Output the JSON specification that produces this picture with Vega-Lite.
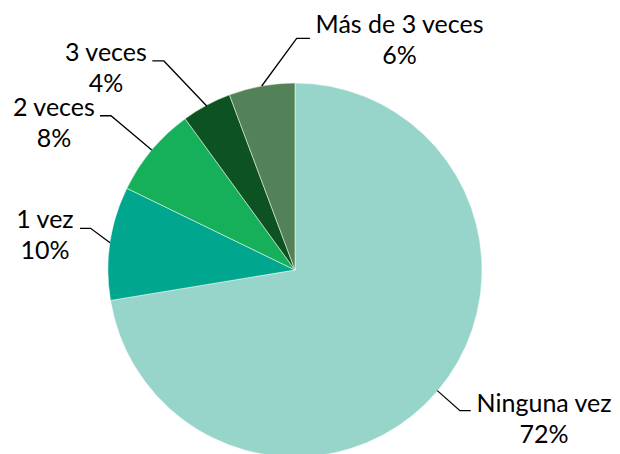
{
  "$schema": "https://vega.github.io/schema/vega-lite/v6.json",
  "width": 590,
  "height": 368,
  "autosize": "none",
  "padding": {"left": 0, "top": 86, "right": 30, "bottom": 0},
  "background": "white",
  "config": {"view": {"stroke": null}, "font": "Lato"},
  "datasets": {
    "slices": [
      {"category": "Ninguna vez", "share": 0.724, "o": 1},
      {"category": "1 vez", "share": 0.098, "o": 2},
      {"category": "2 veces", "share": 0.078, "o": 3},
      {"category": "3 veces", "share": 0.043, "o": 4},
      {"category": "Más de 3 veces", "share": 0.057, "o": 5}
    ],
    "labels": [
      {"category": "Ninguna vez", "share": 0.724, "lx": 1.332, "ly": -0.757},
      {"category": "1 vez", "share": 0.098, "lx": -1.337, "ly": 0.223},
      {"category": "2 veces", "share": 0.078, "lx": -1.289, "ly": 0.825},
      {"category": "3 veces", "share": 0.043, "lx": -1.011, "ly": 1.118},
      {"category": "Más de 3 veces", "share": 0.057, "lx": 0.559, "ly": 1.266}
    ],
    "leaders": [
      {"category": "Ninguna vez", "k": 1, "px": 0.761, "py": -0.645},
      {"category": "Ninguna vez", "k": 2, "px": 0.882, "py": -0.752},
      {"category": "Ninguna vez", "k": 3, "px": 0.940, "py": -0.752},
      {"category": "1 vez", "k": 1, "px": -0.989, "py": 0.146},
      {"category": "1 vez", "k": 2, "px": -1.093, "py": 0.223},
      {"category": "1 vez", "k": 3, "px": -1.150, "py": 0.223},
      {"category": "2 veces", "k": 1, "px": -0.766, "py": 0.642},
      {"category": "2 veces", "k": 2, "px": -0.984, "py": 0.825},
      {"category": "2 veces", "k": 3, "px": -1.043, "py": 0.825},
      {"category": "3 veces", "k": 1, "px": -0.472, "py": 0.877},
      {"category": "3 veces", "k": 2, "px": -0.701, "py": 1.118},
      {"category": "3 veces", "k": 3, "px": -0.763, "py": 1.118},
      {"category": "Más de 3 veces", "k": 1, "px": -0.178, "py": 0.984},
      {"category": "Más de 3 veces", "k": 2, "px": 0.009, "py": 1.239},
      {"category": "Más de 3 veces", "k": 3, "px": 0.080, "py": 1.239}
    ]
  },
  "resolve": {"scale": {"color": "independent"}},
  "layer": [
    {
      "data": {"name": "slices"},
      "mark": {"type": "arc", "outerRadius": 187, "stroke": "white", "strokeWidth": 0.5},
      "encoding": {
        "theta": {"field": "share", "type": "quantitative", "stack": true},
        "order": {"field": "o", "type": "quantitative"},
        "color": {
          "field": "category",
          "type": "nominal",
          "scale": {
            "domain": ["Ninguna vez", "1 vez", "2 veces", "3 veces", "Más de 3 veces"],
            "range": ["#97D5CB", "#01A68E", "#16B05B", "#0D5322", "#548258"]
          },
          "legend": null
        }
      }
    },
    {
      "data": {"name": "leaders"},
      "mark": {"type": "line", "color": "black", "strokeWidth": 1.3, "interpolate": "linear"},
      "encoding": {
        "x": {"field": "px", "type": "quantitative", "scale": {"domain": [-1.5775, 1.5775]}, "axis": null},
        "y": {"field": "py", "type": "quantitative", "scale": {"domain": [-0.98396, 0.98396]}, "axis": null},
        "detail": {"field": "category"},
        "order": {"field": "k", "type": "quantitative"}
      }
    },
    {
      "data": {"name": "labels"},
      "transform": [
        {"calculate": "[datum.category, format(datum.share, '.0%')]", "as": "txt"}
      ],
      "mark": {"type": "text", "align": "center", "baseline": "alphabetic", "fontSize": 25, "lineHeight": 31, "color": "black"},
      "encoding": {
        "x": {"field": "lx", "type": "quantitative", "scale": {"domain": [-1.5775, 1.5775]}, "axis": null},
        "y": {"field": "ly", "type": "quantitative", "scale": {"domain": [-0.98396, 0.98396]}, "axis": null},
        "text": {"field": "txt"}
      }
    }
  ]
}
